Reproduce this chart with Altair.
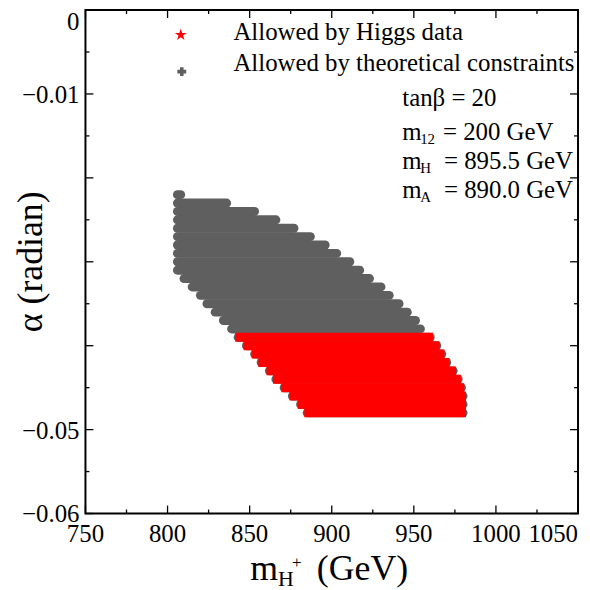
import altair as alt
import pandas as pd

FONT = "Liberation Serif"

# ---- scan rows (alpha in radian) and the mH+ extent of allowed points in each row ----
alpha_rows = [-0.022, -0.023, -0.024, -0.025, -0.026, -0.027, -0.028, -0.029, -0.030,
              -0.031, -0.032, -0.033, -0.034, -0.035, -0.036, -0.037, -0.038, -0.039,
              -0.040, -0.041, -0.042, -0.043, -0.044, -0.045, -0.046, -0.047, -0.048]
gray_lo = [806, 806, 806, 806, 806, 806, 806, 806, 806, 806, 810, 815, 820, 824, 829, 834,
           839, 843, 848, 853, 857, 862, 866, 871, 876, 881, 885]
gray_hi = [808, 836, 853, 866, 877, 887, 896, 903, 911, 917, 923, 930, 935, 941, 946, 951,
           954, 960, 964, 967, 970, 974, 977, 979, 980, 980, 980]

red_alpha = [-0.039, -0.040, -0.041, -0.042, -0.043, -0.044, -0.045, -0.046, -0.047, -0.048]
red_lo = [844, 849, 854, 858, 863, 867, 872, 877, 882, 886]
red_hi = [959, 963, 966, 969, 973, 976, 978, 979, 979, 979]

# ---- axes ----
x_major = [750, 800, 850, 900, 950, 1000, 1050]
x_minor = [775, 825, 875, 925, 975, 1025]
y_major = [0, -0.01, -0.02, -0.03, -0.04, -0.05, -0.06]
y_minor = [-0.005, -0.015, -0.025, -0.035, -0.045, -0.055]
y_label_values = [-0.01, -0.05, -0.06]
y_label_texts = ["\u22120.01", "\u22120.05", "\u22120.06"]

legend_labels = ["Allowed by Higgs data", "Allowed by theoretical constraints"]

W, H = 496, 507

STAR = ("M0,-1L0.223,-0.307L0.951,-0.309L0.361,0.117L0.588,0.809L0,0.38"
        "L-0.588,0.809L-0.361,0.117L-0.951,-0.309L-0.223,-0.307Z")

xs = alt.Scale(domain=[750, 1050], nice=False, zero=False)
ys = alt.Scale(domain=[-0.06, 0], nice=False, zero=False)

gray_df = pd.DataFrame({"alpha": alpha_rows, "lo": gray_lo, "hi": gray_hi})
red_df = pd.DataFrame({"alpha": red_alpha, "lo": red_lo, "hi": red_hi})

gray = alt.Chart(gray_df).mark_rule(color="#5f5f5f", strokeWidth=9, strokeCap="round").encode(
    x=alt.X("lo:Q", scale=xs, axis=None), x2="hi:Q",
    y=alt.Y("alpha:Q", scale=ys, axis=None))
red = alt.Chart(red_df).mark_rule(color="#ff0000", strokeWidth=9, strokeCap="square").encode(
    x=alt.X("lo:Q", scale=xs, axis=None), x2="hi:Q",
    y=alt.Y("alpha:Q", scale=ys, axis=None))


def xticks(vals, length, top):
    y1, y2 = (0, length) if top else (H, H - length)
    return alt.Chart(pd.DataFrame({"t": vals})).mark_rule(color="black", strokeWidth=1.3).encode(
        x=alt.X("t:Q", scale=xs, axis=None), y=alt.value(y1), y2=alt.value(y2))


def yticks(vals, length, right):
    x1, x2 = (W, W - length) if right else (0, length)
    return alt.Chart(pd.DataFrame({"t": vals})).mark_rule(color="black", strokeWidth=1.3).encode(
        y=alt.Y("t:Q", scale=ys, axis=None), x=alt.value(x1), x2=alt.value(x2))


def xlabels(vals, align):
    df = pd.DataFrame({"t": vals, "lab": [str(v) for v in vals]})
    return alt.Chart(df).mark_text(align=align, baseline="alphabetic", fontSize=25, font=FONT,
                                   color="black").encode(
        x=alt.X("t:Q", scale=xs, axis=None), y=alt.value(H + 29), text="lab:N")


def ylabels(vals, texts, baseline, dy):
    df = pd.DataFrame({"t": vals, "lab": texts})
    return alt.Chart(df).mark_text(align="right", baseline=baseline, fontSize=25, font=FONT,
                                   color="black", dy=dy).encode(
        y=alt.Y("t:Q", scale=ys, axis=None), x=alt.value(-6), text="lab:N")


def txt(s, x, y, size, align="left", baseline="alphabetic", angle=0, color="black"):
    df = pd.DataFrame({"lab": [s]})
    return alt.Chart(df).mark_text(
        align=align, baseline=baseline, fontSize=size, font=FONT, color=color, angle=angle
    ).encode(x=alt.value(x), y=alt.value(y), text="lab:N")


def mark(shape, color, size, x, y):
    df = pd.DataFrame({"k": [0]})
    return alt.Chart(df).mark_point(
        shape=shape, filled=True, color=color, size=size, opacity=1
    ).encode(x=alt.value(x), y=alt.value(y))


layers = [gray, red,
          xticks(x_major, 8, False), xticks(x_minor, 4, False),
          xticks(x_major, 8, True), xticks(x_minor, 4, True),
          yticks(y_major, 8, False), yticks(y_minor, 4, False),
          yticks(y_major, 8, True), yticks(y_minor, 4, True),
          xlabels(x_major[:-1], "center"), xlabels(x_major[-1:], "right"),
          ylabels([0], ["0"], "top", 0), ylabels(y_label_values, y_label_texts, "middle", 1)]

# legend
layers += [mark(STAR, "#ff0000", 160, 96, 25), mark("cross", "#5f5f5f", 80, 97, 62),
           txt(legend_labels[0], 149, 30, 25), txt(legend_labels[1], 149, 61, 25)]

# annotation block
ax0 = 319
layers += [txt("tan\u03b2 = 20", ax0, 97, 25),
           txt("m", ax0, 131, 25), txt("12", ax0 + 18, 135, 15), txt("= 200 GeV", ax0 + 41, 131, 25),
           txt("m", ax0, 160, 25), txt("H", ax0 + 18, 164, 15), txt("= 895.5 GeV", ax0 + 42, 160, 25),
           txt("m", ax0, 189, 25), txt("A", ax0 + 18, 193, 15), txt("= 890.0 GeV", ax0 + 42, 189, 25)]

# axis titles
layers += [txt("m", 166, 574, 36), txt("H", 194, 580, 22), txt("+", 208, 562, 17),
           txt("(GeV)", 233, 574, 36),
           txt("\u03b1 (radian)", -55, H / 2, 36, align="center", baseline="middle", angle=270)]

chart = alt.layer(*layers).properties(
    width=W, height=H,
    autosize=alt.AutoSizeParams(type="none"),
    padding={"left": 78, "top": 0, "right": 4, "bottom": 82},
    background="white",
).configure_view(stroke="black", strokeWidth=2)

chart.save("out.html", embed_options={"renderer": "svg", "actions": False})
